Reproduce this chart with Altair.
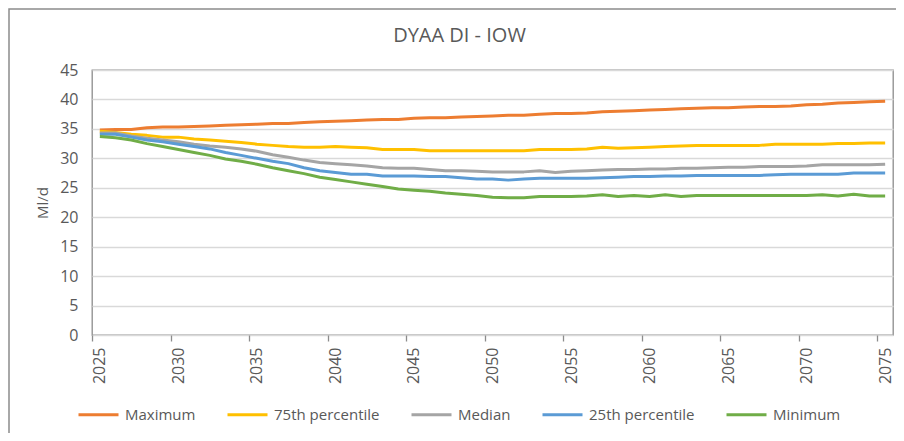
import altair as alt
import pandas as pd

years = list(range(2025, 2076))

maximum = [34.8, 34.9, 34.9, 35.2, 35.3, 35.3, 35.4, 35.5, 35.6, 35.7,
           35.8, 35.9, 35.9, 36.1, 36.2, 36.3, 36.4, 36.5, 36.6, 36.6,
           36.8, 36.9, 36.9, 37.0, 37.1, 37.2, 37.3, 37.3, 37.5, 37.6,
           37.6, 37.7, 37.9, 38.0, 38.1, 38.2, 38.3, 38.4, 38.5, 38.6,
           38.6, 38.7, 38.8, 38.8, 38.9, 39.1, 39.2, 39.4, 39.5, 39.6, 39.7]
p75 = [34.6, 34.4, 34.1, 33.9, 33.6, 33.6, 33.3, 33.1, 32.9, 32.7,
       32.4, 32.2, 32.0, 31.9, 31.9, 32.0, 31.9, 31.8, 31.5, 31.5,
       31.5, 31.3, 31.3, 31.3, 31.3, 31.3, 31.3, 31.3, 31.5, 31.5,
       31.5, 31.6, 31.9, 31.7, 31.8, 31.9, 32.0, 32.1, 32.2, 32.2,
       32.2, 32.2, 32.2, 32.4, 32.4, 32.4, 32.4, 32.5, 32.5, 32.6, 32.6]
median = [34.3, 34.3, 33.8, 33.4, 33.1, 32.8, 32.4, 32.1, 31.9, 31.6,
          31.2, 30.6, 30.2, 29.7, 29.3, 29.1, 28.9, 28.7, 28.4, 28.3,
          28.3, 28.1, 27.9, 27.9, 27.8, 27.7, 27.7, 27.7, 27.9, 27.6,
          27.8, 27.9, 28.0, 28.1, 28.1, 28.2, 28.2, 28.3, 28.3, 28.4,
          28.5, 28.5, 28.6, 28.6, 28.6, 28.7, 28.9, 28.9, 28.9, 28.9, 29.0]
p25 = [34.1, 34.1, 33.6, 33.1, 32.8, 32.4, 32.0, 31.6, 31.0, 30.5,
       30.0, 29.5, 29.1, 28.4, 27.9, 27.6, 27.3, 27.3, 27.0, 27.0,
       27.0, 26.9, 26.9, 26.7, 26.5, 26.5, 26.3, 26.5, 26.6, 26.6,
       26.6, 26.6, 26.7, 26.8, 26.9, 26.9, 27.0, 27.0, 27.1, 27.1,
       27.1, 27.1, 27.1, 27.2, 27.3, 27.3, 27.3, 27.3, 27.5, 27.5, 27.5]
minimum = [33.7, 33.5, 33.1, 32.5, 32.0, 31.5, 31.0, 30.5, 29.9, 29.5,
           29.0, 28.4, 27.9, 27.4, 26.8, 26.4, 26.0, 25.6, 25.2, 24.8,
           24.6, 24.4, 24.1, 23.9, 23.7, 23.4, 23.3, 23.3, 23.5, 23.5,
           23.5, 23.6, 23.8, 23.5, 23.7, 23.5, 23.8, 23.5, 23.7, 23.7,
           23.7, 23.7, 23.7, 23.7, 23.7, 23.7, 23.8, 23.6, 23.9, 23.6, 23.6]

series_names = ["Maximum", "75th percentile", "Median", "25th percentile", "Minimum"]
series_colors = ["#ED7D31", "#FFC000", "#A5A5A5", "#5B9BD5", "#70AD47"]
y_ticks = list(range(0, 46, 5))
x_ticks = list(range(2025, 2076, 5))
chart_title = "DYAA DI - IOW"

rows = []
for name, vals in zip(series_names, [maximum, p75, median, p25, minimum]):
    for yr, v in zip(years, vals):
        rows.append({"Year": yr, "Value": v, "Series": name})
df = pd.DataFrame(rows)

W, H = 801, 265
band = W / len(years)
FONT = "Open Sans"
TXT = "#595959"
GRAY = "#8c8c8c"

lines = alt.Chart(df).mark_line(strokeWidth=3, strokeJoin="round").encode(
    x=alt.X("Year:Q",
            scale=alt.Scale(domain=[2024.5, 2075.5], nice=False, zero=False),
            axis=alt.Axis(values=x_ticks, format="d", labelAngle=-90,
                          tickOffset=-band / 2, labelOffset=band / 2,
                          title=None, grid=False, ticks=True, tickSize=6,
                          tickColor=GRAY, tickWidth=1.3, labelPadding=6,
                          domain=False, labelFontSize=16)),
    y=alt.Y("Value:Q",
            scale=alt.Scale(domain=[0, 45], nice=False, zero=True),
            axis=alt.Axis(values=y_ticks, title="Ml/d", ticks=False, tickSize=0,
                          labelPadding=14, grid=True, gridColor="#d9d9d9",
                          gridWidth=1.5, domain=False, labelFontSize=16,
                          titleFontSize=15, titleFontWeight="normal",
                          titleColor=TXT, titleFont=FONT,
                          titleX=-42, titleY=H / 2)),
    color=alt.Color("Series:N",
                    scale=alt.Scale(domain=series_names, range=series_colors),
                    sort=series_names,
                    legend=alt.Legend(title=None, orient="none", direction="horizontal",
                                      legendX=-15, legendY=323,
                                      symbolType="stroke", symbolSize=1600,
                                      symbolStrokeWidth=3, labelFontSize=15,
                                      labelFont=FONT, labelColor=TXT,
                                      labelOffset=5, columnPadding=25)),
)

frame = alt.Chart(alt.Data(values=[{"f": 1}])).mark_rect(
    fill="transparent", stroke=GRAY, strokeWidth=1.5
).encode(
    x=alt.value(-83), x2=alt.value(W + 100),
    y=alt.value(-61), y2=alt.value(H + 200),
)

title = alt.Chart(alt.Data(values=[{"t": chart_title}])).mark_text(
    font=FONT, fontSize=20, color=TXT, align="center", baseline="alphabetic"
).encode(
    text="t:N", x=alt.value(W / 2 - 33), y=alt.value(-28),
)

chart = alt.layer(frame, lines, title).properties(
    width=W, height=H,
    padding={"left": 84, "top": 62, "right": 3, "bottom": 98},
    autosize="none",
).configure_view(
    stroke=GRAY, strokeWidth=1.3
).configure_axis(
    labelFont=FONT, labelColor=TXT
)

chart.save("out.html", embed_options={"renderer": "svg", "actions": False})
